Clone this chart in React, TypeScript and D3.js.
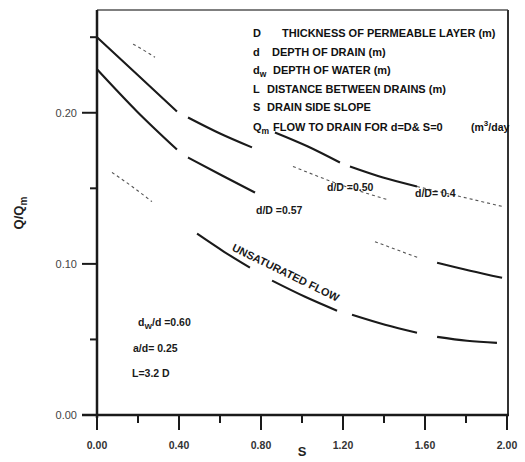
import React from "react";
import * as d3 from "d3";

const width = 525;
const height = 462;

type Pt = [number, number] | null;

// axis ticks
const xTicks = [0, 0.4, 0.8, 1.2, 1.6, 2.0];
const xMinorTicks = [0.2, 0.6, 1.0, 1.4, 1.8];
const yTicks = [0, 0.1, 0.2];
const yMinorTicks = [0.05, 0.15, 0.25];

// curves, [S, Q/Qm]; null = gap in the print
const dD040Solid: Pt[] = [
  [0.868, 0.187], [1.029, 0.1777], [1.185, 0.1671], null,
  [1.234, 0.1644], [1.395, 0.1571], [1.561, 0.1512],
];
const dD040Faint: Pt[] = [
  [0.176, 0.2454], [0.229, 0.2413], [0.283, 0.2367], null,
  [1.561, 0.1512], [1.771, 0.1446], [1.98, 0.1379],
];
const dD050Solid: Pt[] = [
  [0, 0.25], [0.2, 0.2248], [0.39, 0.2009], null,
  [0.444, 0.1969], [0.6, 0.1863], [0.756, 0.1771],
];
const dD050Faint: Pt[] = [[0.956, 0.1645], [1.185, 0.1525], [1.415, 0.1426]];
const dD057Solid: Pt[] = [
  [0, 0.2288], [0.195, 0.2009], [0.39, 0.1757], null,
  [0.444, 0.1704], [0.61, 0.1585], [0.771, 0.1472], null,
  [1.659, 0.1008], [1.82, 0.0955], [1.976, 0.0908],
];
const dD057Faint: Pt[] = [[1.356, 0.1147], [1.566, 0.1041]];
const unsatSolid: Pt[] = [
  [0.488, 0.12], [0.62, 0.108], [0.746, 0.0975], null,
  [0.854, 0.0889], [1.015, 0.0782], [1.171, 0.069], null,
  [1.244, 0.0663], [1.405, 0.0597], [1.561, 0.0544], null,
  [1.659, 0.0517], [1.805, 0.0491], [1.951, 0.0477],
];
const unsatFaint: Pt[] = [[0.073, 0.1605], [0.171, 0.1512], [0.268, 0.1412]];

const solidSeries = [dD040Solid, dD050Solid, dD057Solid, unsatSolid];
const faintSeries = [dD040Faint, dD050Faint, dD057Faint, unsatFaint];

const legendSymbols = ["D", "d", "d", "L", "S", "Q"];
const legendSubs = ["", "", "w", "", "", "m"];
const legendTexts = [
  "THICKNESS OF PERMEABLE LAYER (m)",
  "DEPTH OF DRAIN (m)",
  "DEPTH OF WATER (m)",
  "DISTANCE BETWEEN DRAINS (m)",
  "DRAIN SIDE SLOPE",
  "FLOW TO DRAIN FOR d=D& S=0",
];
const flowUnit = ["(m", "3", "/day"];

const x = d3.scaleLinear().domain([0, 2]).range([97, 507]);
const y = d3.scaleLinear().domain([0, 0.268]).range([415, 10]);
const fmt = d3.format(".2f");

const line = d3
  .line<Pt>()
  .defined((d) => d !== null)
  .x((d) => x((d as [number, number])[0]))
  .y((d) => y((d as [number, number])[1]))
  .curve(d3.curveMonotoneX);

const ink = "#1a1a1a";
const font = "'Liberation Sans', Arial, sans-serif";

export default function App() {
  const [x0, x1] = x.range();
  const [y0, y1] = y.range();
  const legendX = [282, 272, 273, 267, 267, 273];
  const legendY = [37, 56, 74, 93, 111, 131];

  return (
    <svg
      width={width}
      height={height}
      style={{ position: "absolute", left: 0, top: 0, background: "#fff" }}
      fontFamily={font}
    >
      {/* frame */}
      <line x1={x0} x2={x1 + 1} y1={y1} y2={y1} stroke="#555" strokeWidth={1.5} />
      <line x1={x1 + 1} x2={x1 + 1} y1={y1} y2={y0} stroke="#333" strokeWidth={2} />
      <line x1={x0} x2={x0} y1={y1} y2={y0 + 3} stroke={ink} strokeWidth={2.5} />
      <line x1={x0 - 15} x2={x1 + 2} y1={y0} y2={y0} stroke={ink} strokeWidth={2.5} />

      {/* y ticks */}
      {yTicks.map((t) => (
        <g key={"y" + t}>
          <line x1={x0 - 15} x2={x0} y1={y(t)} y2={y(t)} stroke={ink} strokeWidth={2} />
          <text x={x0 - 20} y={y(t) + 4} fontSize={11} fill="#444" textAnchor="end">
            {fmt(t)}
          </text>
        </g>
      ))}
      {yMinorTicks.map((t) => (
        <line key={"ym" + t} x1={x0 - 7} x2={x0} y1={y(t)} y2={y(t)} stroke={ink} strokeWidth={2} />
      ))}

      {/* x ticks */}
      {xTicks.map((t) => (
        <g key={"x" + t}>
          <line x1={x(t)} x2={x(t)} y1={y0} y2={y0 + 15} stroke={ink} strokeWidth={2} />
          <text x={x(t)} y={y0 + 34} fontSize={10.5} fontWeight="bold" fill="#333" textAnchor="middle">
            {fmt(t)}
          </text>
        </g>
      ))}
      {xMinorTicks.map((t) => (
        <line key={"xm" + t} x1={x(t)} x2={x(t)} y1={y0} y2={y0 + 8} stroke={ink} strokeWidth={2} />
      ))}

      {/* axis titles */}
      <text x={302} y={456} fontSize={13} fontWeight="bold" fill="#222" textAnchor="middle">
        S
      </text>
      <text
        transform="translate(23,213) rotate(-90)"
        fontSize={13}
        fontWeight="bold"
        fill="#222"
        textAnchor="middle"
      >
        Q/Q
        <tspan fontSize={10} dy={4}>m</tspan>
      </text>

      {/* curves */}
      {faintSeries.map((s, i) => (
        <path key={"f" + i} d={line(s) || ""} fill="none" stroke="#555" strokeWidth={1.1} strokeDasharray="3,3" />
      ))}
      {solidSeries.map((s, i) => (
        <path key={"s" + i} d={line(s) || ""} fill="none" stroke={ink} strokeWidth={2.1} />
      ))}

      {/* legend */}
      {legendTexts.map((t, i) => (
        <g key={"l" + i} fontWeight="bold" fill="#111">
          <text x={253} y={legendY[i]} fontSize={11}>
            {legendSymbols[i]}
            {legendSubs[i] && (
              <tspan fontSize={8.5} dy={3}>
                {legendSubs[i]}
              </tspan>
            )}
          </text>
          <text x={legendX[i]} y={legendY[i]} fontSize={11}>
            {t}
          </text>
        </g>
      ))}
      <text x={471} y={legendY[5]} fontSize={10.5} fontWeight="bold" fill="#111">
        {flowUnit[0]}
        <tspan fontSize={8} dy={-5}>{flowUnit[1]}</tspan>
        <tspan dy={5}>{flowUnit[2]}</tspan>
      </text>

      {/* curve labels */}
      <g fontSize={10.5} fontWeight="bold" fill="#1a1a1a">
        <text x={327} y={191}>d/D =0.50</text>
        <text x={415} y={197}>d/D= 0.4</text>
        <text x={256} y={214}>d/D =0.57</text>
        <text x={138} y={326}>
          d<tspan fontSize={8} dy={3}>W</tspan>
          <tspan dy={-3}>/d =0.60</tspan>
        </text>
        <text x={133} y={352}>a/d= 0.25</text>
        <text x={132} y={377}>L=3.2 D</text>
      </g>
      <text
        transform="translate(284,276) rotate(26)"
        fontSize={11}
        fontWeight="bold"
        fill="#1a1a1a"
        textAnchor="middle"
      >
        UNSATURATED FLOW
      </text>
    </svg>
  );
}
